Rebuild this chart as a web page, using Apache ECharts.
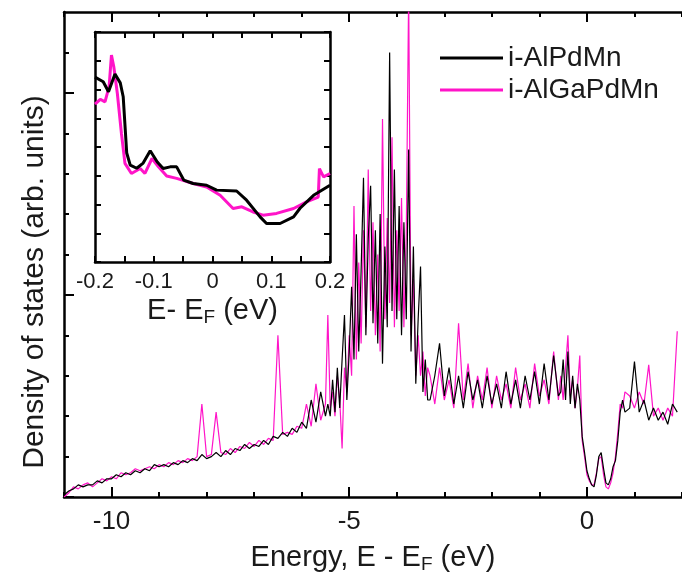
<!DOCTYPE html>
<html><head><meta charset="utf-8">
<script src="https://cdn.jsdelivr.net/npm/echarts@6/dist/echarts.min.js"></script>
<style>html,body{margin:0;padding:0;background:#fff}#c{width:682px;height:581px}</style>
</head><body><div id="c"></div>
<script>
const energyMain = [
-11.0,-10.9,-10.8,-10.7,-10.6,-10.5,-10.4,-10.3,-10.2,-10.1,-10.0,-9.9,-9.8,-9.7,-9.6,-9.5,-9.4,-9.3,-9.2,-9.1,-9.0,-8.9,-8.8,-8.7,-8.6,-8.5,-8.4,-8.3,-8.2,-8.1,-8.0,-7.9,-7.8,-7.7,-7.6,-7.5,-7.4,-7.3,-7.2,-7.1,-7.0,-6.9,-6.8,-6.7,-6.6,-6.5,-6.4,-6.3,-6.2,-6.1,-6.0,-5.9,-5.8,-5.7,-5.6,-5.5,
-5.45,-5.4,-5.35,-5.3,-5.25,-5.2,-5.15,-5.1,-5.05,-5.0,-4.95,-4.9,-4.85,-4.8,-4.75,-4.7,-4.65,-4.6,-4.55,-4.5,-4.45,-4.4,-4.35,-4.3,-4.25,-4.2,-4.15,-4.1,-4.05,-4.0,-3.95,-3.9,-3.85,-3.8,-3.75,-3.7,-3.65,-3.6,-3.55,-3.5,-3.45,-3.4,-3.35,
-3.3,-3.2,-3.1,-3.0,-2.9,-2.8,-2.7,-2.6,-2.5,-2.4,-2.3,-2.2,-2.1,-2.0,-1.9,-1.8,-1.7,-1.6,-1.5,-1.4,-1.3,-1.2,-1.1,-1.0,-0.9,-0.8,-0.7,-0.6,
-0.55,-0.5,-0.45,-0.4,-0.35,-0.3,-0.25,-0.2,-0.15,-0.1,-0.05,0.0,0.05,0.1,0.15,0.2,0.25,0.3,0.35,0.4,0.45,0.5,0.55,0.6,0.65,0.7,0.75,0.8,
0.9,1.0,1.1,1.2,1.3,1.4,1.5,1.6,1.7,1.8,1.9];
const dosAlPdMn = [
0.05,0.15,0.2,0.3,0.25,0.3,0.3,0.4,0.35,0.45,0.45,0.55,0.5,0.6,0.55,0.65,0.6,0.7,0.65,0.8,0.75,0.8,0.75,0.85,0.8,0.9,0.85,0.95,0.9,1.05,0.95,1.0,1.1,1.0,1.15,1.05,1.2,1.15,1.3,1.2,1.3,1.25,1.4,1.3,1.5,1.45,1.6,1.5,1.7,1.6,1.85,1.7,2.4,1.85,2.6,2.0,
2.3,2.0,2.9,2.1,3.2,2.2,3.4,4.5,2.4,3.6,5.2,3.4,6.5,3.6,5.6,7.9,4.0,6.4,7.7,4.3,6.6,3.8,7.0,3.3,6.2,4.2,11.0,4.6,8.1,4.4,7.2,4.0,6.8,4.4,8.6,3.6,6.2,2.8,4.4,5.7,2.6,3.4,2.4,
2.4,3.0,3.8,2.5,3.2,2.3,3.0,2.2,3.1,2.4,2.9,2.2,3.0,2.3,2.8,2.2,3.1,2.3,2.9,2.2,3.0,2.4,3.1,2.3,3.3,2.4,3.5,2.5,
2.6,3.4,2.4,3.6,2.3,3.0,2.2,2.8,2.4,1.5,1.1,0.65,0.45,0.3,0.25,0.55,1.0,1.1,0.7,0.35,0.3,0.45,0.75,0.9,1.4,2.1,2.4,2.1,
2.2,3.35,2.1,2.4,1.9,2.2,1.9,2.1,1.8,2.3,2.1];
const dosAlGaPdMn = [
0.0,0.1,0.25,0.2,0.3,0.35,0.25,0.35,0.45,0.4,0.5,0.45,0.6,0.55,0.6,0.7,0.65,0.7,0.75,0.7,0.8,0.75,0.85,0.8,0.9,0.85,0.95,0.9,1.0,2.3,1.0,1.05,2.1,1.1,1.05,1.2,1.1,1.25,1.2,1.35,1.25,1.4,1.3,1.45,1.4,4.0,1.55,1.6,1.55,1.75,1.7,2.3,1.75,2.8,1.9,2.3,
4.5,2.2,2.6,2.0,3.0,2.4,1.2,3.2,2.6,4.0,3.0,7.2,3.4,5.8,3.8,6.6,4.2,8.1,4.6,6.8,4.0,6.0,3.6,9.35,4.4,6.9,4.8,8.9,4.2,6.6,4.6,7.4,4.2,6.5,12.5,4.0,5.4,3.0,4.0,3.0,3.6,2.5,3.2,
3.0,2.3,3.2,2.4,2.9,2.2,4.3,2.4,3.3,2.2,3.0,2.4,3.2,2.2,3.0,2.4,2.8,2.2,3.2,2.4,2.8,2.2,3.3,2.5,2.9,2.3,3.6,2.4,
3.0,2.4,3.2,4.0,2.5,2.9,2.2,2.7,3.5,1.4,1.0,0.55,0.4,0.3,0.3,0.6,0.95,1.0,0.55,0.25,0.2,0.35,0.6,1.0,1.6,2.3,2.2,2.6,
2.5,2.2,2.6,2.3,3.27,2.0,2.2,1.9,2.2,2.0,4.1];

const insetEnergyAlPdMn = [-0.2,-0.186,-0.177,-0.166,-0.157,-0.152,-0.146,-0.140,-0.129,-0.118,-0.106,-0.094,-0.084,-0.072,-0.061,-0.049,-0.033,-0.010,0.007,0.041,0.058,0.081,0.092,0.115,0.138,0.149,0.172,0.2];
const insetAlPdMn = [6.43,6.27,5.92,6.54,6.23,5.75,3.79,3.37,3.26,3.44,3.87,3.48,3.25,3.31,3.31,2.85,2.73,2.67,2.50,2.47,2.15,1.57,1.34,1.34,1.57,1.87,2.32,2.67];
const insetEnergyAlGaPdMn = [-0.2,-0.191,-0.183,-0.176,-0.172,-0.168,-0.162,-0.155,-0.149,-0.138,-0.123,-0.115,-0.103,-0.092,-0.078,-0.061,-0.033,-0.010,0.013,0.035,0.050,0.069,0.086,0.109,0.138,0.160,0.180,0.182,0.189,0.2];
const insetAlGaPdMn = [5.49,5.66,5.57,6.10,7.20,6.79,5.87,4.47,3.43,3.08,3.25,3.08,3.60,3.31,2.99,2.91,2.73,2.61,2.32,1.86,1.92,1.74,1.63,1.69,1.86,2.09,2.26,3.25,2.96,3.08];

const mainXMajor = [-10,-5,0];
const mainXMinor = [-11,-9,-8,-7,-6,-4,-3,-2,-1,1,2];
const mainYMajor = [0,5,10];
const mainYMinor = [1,2,3,4,6,7,8,9,11];
const insetXLabels = [-0.2,-0.1,0,0.1,0.2];

const BLACK = '#000000', PINK = '#ff14c8';
const FONT = 'Liberation Sans';
const TXT = '#1a1a1a';
const pair = (xs, ys) => xs.map((x, i) => [x, ys[i]]);

const axisLine = {show: true, onZero: false, lineStyle: {color: '#000', width: 2.5}};
const noLine = {show: false, onZero: false};
function tickAxis(extra, vals, len, showLine) {
  return Object.assign({
    type: 'value', axisLine: showLine ? axisLine : noLine,
    axisTick: {show: true, inside: true, length: len, customValues: vals, lineStyle: {color: '#000', width: 2}},
    axisLabel: {show: false}, splitLine: {show: false}
  }, extra);
}
const subRich = (fs, pad) => ({sub: {fontFamily: FONT, fontSize: fs, color: TXT, verticalAlign: 'bottom', padding: [pad, 0, 0, 0]}});

const chart = echarts.init(document.getElementById('c'), null, {renderer: 'canvas'});
chart.setOption({
  animation: false,
  backgroundColor: '#fff',
  legend: {
    orient: 'vertical', left: 435, top: 39, itemGap: 4,
    itemWidth: 63, itemHeight: 3, icon: 'rect',
    textStyle: {fontFamily: FONT, fontSize: 28, color: TXT},
    data: [{name: 'i-AlPdMn', itemStyle: {color: BLACK}}, {name: 'i-AlGaPdMn', itemStyle: {color: PINK}}]
  },
  graphic: [{
    type: 'text', x: 35, y: 282, rotation: Math.PI / 2,
    style: {text: 'Density of states (arb. units)', fontFamily: FONT, fontSize: 30, fill: TXT, align: 'center', verticalAlign: 'middle'}
  }],
  grid: [
    {left: 64, top: 12, right: -4, bottom: 84, containLabel: false},
    {left: 95, top: 32, right: 352, bottom: 319, containLabel: false, show: true, backgroundColor: '#fff', borderWidth: 0}
  ],
  xAxis: [
    tickAxis({gridIndex: 0, min: -11, max: 2, position: 'bottom',
      axisLabel: {show: true, customValues: mainXMajor, fontFamily: FONT, fontSize: 26, color: TXT, margin: 12},
      name: 'Energy, E - E{sub|F} (eV)', nameLocation: 'middle', nameGap: 44,
      nameTextStyle: {fontFamily: FONT, fontSize: 29, color: TXT, rich: subRich(19, 14)}
    }, mainXMajor, 10, true),
    tickAxis({gridIndex: 0, min: -11, max: 2, position: 'bottom'}, mainXMinor, 5, false),
    tickAxis({gridIndex: 0, min: -11, max: 2, position: 'top'}, mainXMajor, 10, true),
    tickAxis({gridIndex: 0, min: -11, max: 2, position: 'top'}, mainXMinor, 5, false),
    {gridIndex: 1, type: 'value', min: -0.2, max: 0.2, interval: 0.05, position: 'bottom',
      axisLine: axisLine, axisTick: {inside: true, length: 6, lineStyle: {color: '#000', width: 2}},
      axisLabel: {customValues: insetXLabels, fontFamily: FONT, fontSize: 22, color: TXT, margin: 9,
        formatter: v => (Math.abs(v) < 1e-9 ? '0' : String(Math.round(v * 10) / 10))},
      splitLine: {show: false},
      name: 'E- E{sub|F} (eV)', nameLocation: 'middle', nameGap: 32,
      nameTextStyle: {fontFamily: FONT, fontSize: 29, color: TXT, rich: subRich(19, 14)}
    },
    {gridIndex: 1, type: 'value', min: -0.2, max: 0.2, interval: 0.05, position: 'top',
      axisLine: axisLine, axisTick: {inside: true, length: 6, lineStyle: {color: '#000', width: 2}},
      axisLabel: {show: false}, splitLine: {show: false}}
  ],
  yAxis: [
    tickAxis({gridIndex: 0, min: 0, max: 12, position: 'left'}, mainYMajor, 10, true),
    tickAxis({gridIndex: 0, min: 0, max: 12, position: 'left'}, mainYMinor, 5, false),
    {gridIndex: 1, type: 'value', min: 0, max: 8, interval: 1, position: 'left',
      axisLine: axisLine, axisTick: {inside: true, length: 6, lineStyle: {color: '#000', width: 2}},
      axisLabel: {show: false}, splitLine: {show: false}},
    {gridIndex: 1, type: 'value', min: 0, max: 8, interval: 1, position: 'right',
      axisLine: axisLine, axisTick: {inside: true, length: 6, lineStyle: {color: '#000', width: 2}},
      axisLabel: {show: false}, splitLine: {show: false}}
  ],
  series: [
    {name: 'i-AlGaPdMn', type: 'line', xAxisIndex: 0, yAxisIndex: 0, showSymbol: false,
      data: pair(energyMain, dosAlGaPdMn), lineStyle: {color: PINK, width: 1.2}, itemStyle: {color: PINK}, z: 2},
    {name: 'i-AlPdMn', type: 'line', xAxisIndex: 0, yAxisIndex: 0, showSymbol: false,
      data: pair(energyMain, dosAlPdMn), lineStyle: {color: BLACK, width: 1.2}, itemStyle: {color: BLACK}, z: 3},
    {name: 'i-AlGaPdMn', type: 'line', xAxisIndex: 4, yAxisIndex: 2, showSymbol: false,
      data: pair(insetEnergyAlGaPdMn, insetAlGaPdMn), lineStyle: {color: PINK, width: 3}, itemStyle: {color: PINK}, z: 5},
    {name: 'i-AlPdMn', type: 'line', xAxisIndex: 4, yAxisIndex: 2, showSymbol: false,
      data: pair(insetEnergyAlPdMn, insetAlPdMn), lineStyle: {color: BLACK, width: 3}, itemStyle: {color: BLACK}, z: 6}
  ]
});
</script></body></html>
